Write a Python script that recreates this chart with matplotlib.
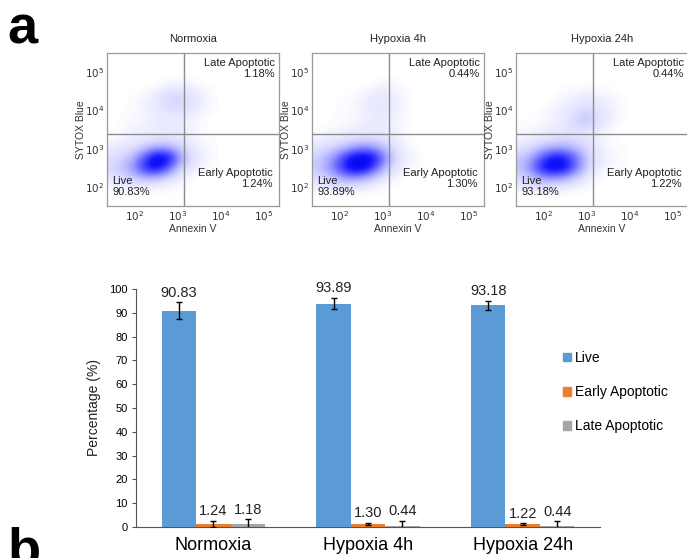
import numpy as np
import matplotlib
matplotlib.use("Agg")
import matplotlib.pyplot as plt
import matplotlib.patches as mp
from matplotlib.colors import LinearSegmentedColormap

plt.rcParams["font.family"] = ["Liberation Sans", "DejaVu Sans"]

# ---- panel a: flow cytometry quadrants ----
PANELS = ["Normoxia", "Hypoxia 4h", "Hypoxia 24h"]
LIVE_PCT = ["90.83%", "93.89%", "93.18%"]
EARLY_PCT = ["1.24%", "1.30%", "1.22%"]
LATE_PCT = ["1.18%", "0.44%", "0.44%"]

# density grid (log10 units), columns x = 1.5 .. 4.0, rows y = 5.0 .. 1.75 (step 0.25)
GRID_X = [1.5, 1.75, 2.0, 2.25, 2.5, 2.75, 3.0, 3.25, 3.5, 3.75, 4.0]
GRID_Y = [5.0, 4.75, 4.5, 4.25, 4.0, 3.75, 3.5, 3.25, 3.0, 2.75, 2.5, 2.25, 2.0, 1.75]

dens_normoxia = [
    [0, 0, 0, 0, 0, 0, 0, 0, 0, 0, 0],
    [0, 0, 0, 0, 0, 0.1, 0.1, 0.1, 0, 0, 0],
    [0, 0, 0, 0.1, 0.2, 0.4, 0.5, 0.4, 0.2, 0.1, 0],
    [0, 0, 0.1, 0.2, 0.4, 0.8, 1.0, 0.7, 0.3, 0.1, 0],
    [0, 0, 0.1, 0.2, 0.3, 0.5, 0.6, 0.4, 0.2, 0.1, 0],
    [0, 0.1, 0.1, 0.2, 0.3, 0.3, 0.3, 0.2, 0.1, 0, 0],
    [0, 0.1, 0.2, 0.2, 0.3, 0.3, 0.3, 0.2, 0.1, 0, 0],
    [0.1, 0.2, 0.3, 0.4, 0.5, 0.5, 0.4, 0.2, 0.1, 0.1, 0],
    [0.3, 0.4, 0.6, 1.2, 2.0, 2.0, 1.2, 0.5, 0.2, 0.1, 0],
    [0.6, 1.0, 2, 5, 9, 8, 3, 0.8, 0.3, 0.1, 0],
    [0.8, 1.5, 3, 6.5, 8, 4.5, 1.2, 0.4, 0.2, 0.1, 0],
    [0.5, 0.8, 1.2, 1.6, 1.3, 0.7, 0.3, 0.1, 0, 0, 0],
    [0.1, 0.2, 0.2, 0.2, 0.2, 0.1, 0.1, 0, 0, 0, 0],
    [0, 0, 0, 0, 0, 0, 0, 0, 0, 0, 0],
]
dens_hyp4 = [
    [0, 0, 0, 0, 0, 0, 0, 0, 0, 0, 0],
    [0, 0, 0, 0, 0, 0, 0.1, 0.1, 0, 0, 0],
    [0, 0, 0, 0, 0.1, 0.2, 0.3, 0.2, 0.1, 0, 0],
    [0, 0, 0, 0.1, 0.2, 0.4, 0.4, 0.3, 0.1, 0, 0],
    [0, 0, 0.1, 0.1, 0.2, 0.3, 0.4, 0.3, 0.1, 0, 0],
    [0, 0, 0.1, 0.1, 0.2, 0.3, 0.3, 0.2, 0.1, 0, 0],
    [0, 0.1, 0.1, 0.2, 0.3, 0.3, 0.3, 0.2, 0.1, 0, 0],
    [0.2, 0.3, 0.4, 0.5, 0.6, 0.6, 0.5, 0.3, 0.1, 0, 0],
    [0.5, 0.8, 1.2, 2.0, 3.0, 2.5, 1.5, 0.5, 0.2, 0.1, 0],
    [1.0, 2.0, 4, 7.5, 9, 8, 3.5, 0.9, 0.3, 0.1, 0],
    [1.2, 2.5, 5, 8.5, 9, 5.5, 1.8, 0.5, 0.2, 0.1, 0],
    [0.7, 1.2, 2.0, 2.5, 2.0, 1.0, 0.4, 0.2, 0, 0, 0],
    [0.2, 0.3, 0.4, 0.4, 0.3, 0.2, 0.1, 0, 0, 0, 0],
    [0, 0, 0, 0, 0, 0, 0, 0, 0, 0, 0],
]
dens_hyp24 = [
    [0, 0, 0, 0, 0, 0, 0, 0, 0, 0, 0],
    [0, 0, 0, 0, 0, 0, 0, 0, 0, 0, 0],
    [0, 0, 0, 0, 0.1, 0.1, 0.2, 0.1, 0.1, 0, 0],
    [0, 0, 0, 0.1, 0.2, 0.3, 0.4, 0.3, 0.2, 0.1, 0],
    [0, 0, 0.1, 0.2, 0.3, 0.5, 0.8, 0.5, 0.3, 0.1, 0],
    [0, 0.1, 0.1, 0.2, 0.4, 0.9, 1.5, 0.6, 0.3, 0.1, 0],
    [0.1, 0.1, 0.2, 0.3, 0.4, 0.6, 0.5, 0.3, 0.1, 0, 0],
    [0.2, 0.3, 0.4, 0.6, 0.7, 0.6, 0.4, 0.2, 0.1, 0, 0],
    [0.5, 0.8, 1.5, 2.0, 2.0, 1.5, 0.7, 0.3, 0.1, 0.1, 0],
    [1.2, 2.5, 5, 7.5, 6.5, 3.5, 1.0, 0.4, 0.2, 0.1, 0],
    [1.5, 3.5, 7.5, 9, 7.5, 3.5, 0.9, 0.3, 0.1, 0.1, 0],
    [0.8, 1.6, 2.5, 2.5, 1.8, 0.9, 0.3, 0.1, 0, 0, 0],
    [0.2, 0.4, 0.5, 0.4, 0.3, 0.2, 0.1, 0, 0, 0, 0],
    [0, 0, 0, 0, 0, 0, 0, 0, 0, 0, 0],
]
DENSITIES = [dens_normoxia, dens_hyp4, dens_hyp24]
GATE_X = 3.15
GATE_Y = 3.39

# ---- panel b: bar chart ----
GROUPS = ["Normoxia", "Hypoxia 4h", "Hypoxia 24h"]
SERIES = ["Live", "Early Apoptotic", "Late Apoptotic"]
live = [90.83, 93.89, 93.18]
early = [1.24, 1.30, 1.22]
late = [1.18, 0.44, 0.44]
live_err = [3.6, 2.5, 1.8]
early_err = [1.4, 0.3, 0.33]
late_err = [2.0, 2.2, 1.95]
COLORS = ["#5B9BD5", "#ED7D31", "#A5A5A5"]

W, H = 687, 558
fig = plt.figure(figsize=(W / 100, H / 100), dpi=100, facecolor="white")

cmap = LinearSegmentedColormap.from_list(
    "flow", [(0, "white"), (0.03, "#ececff"), (0.15, "#c2c2ff"), (0.4, "#7272ff"),
             (0.75, "#1818ff"), (1, "#0000e0")])

lefts = [107, 312, 516]
for i, name in enumerate(PANELS):
    ax = fig.add_axes([lefts[i] / W, (H - 206) / H, 172 / W, 153 / H])
    ax.imshow(np.array(DENSITIES[i]), extent=[1.375, 4.125, 1.625, 5.125], origin="upper",
              cmap=cmap, vmin=0, vmax=9, interpolation="bicubic", aspect="auto", zorder=1)
    ax.set_xlim(1.35, 5.35)
    ax.set_ylim(1.5, 5.5)
    ax.axvline(GATE_X, color="#8c8c8c", lw=1.0, zorder=3)
    ax.axhline(GATE_Y, color="#8c8c8c", lw=1.0, zorder=3)
    for s in ax.spines.values():
        s.set_color("#9a9a9a")
        s.set_linewidth(0.9)
    ax.set_xticks([2, 3, 4, 5])
    ax.set_xticklabels([r"$10^{2}$", r"$10^{3}$", r"$10^{4}$", r"$10^{5}$"])
    ax.set_yticks([2, 3, 4, 5])
    ax.set_yticklabels([r"$10^{2}$", r"$10^{3}$", r"$10^{4}$", r"$10^{5}$"])
    ax.tick_params(length=0, labelsize=7.5, pad=2, colors="#333333")
    ax.set_xlabel("Annexin V", fontsize=7.5, labelpad=1, color="#333333")
    ax.set_ylabel("SYTOX Blue", fontsize=7.5, labelpad=-1, color="#333333")
    ax.set_title(name, fontsize=8, pad=8, color="#222222")
    ax.text(0.975, 0.965, f"Late Apoptotic\n{LATE_PCT[i]}", transform=ax.transAxes,
            ha="right", va="top", fontsize=8, multialignment="right", color="#222222",
            linespacing=1.1, zorder=4)
    ax.text(0.965, 0.11, f"Early Apoptotic\n{EARLY_PCT[i]}", transform=ax.transAxes,
            ha="right", va="bottom", fontsize=8, multialignment="right", color="#222222",
            linespacing=1.1, zorder=4)
    ax.text(0.03, 0.06, f"Live\n{LIVE_PCT[i]}", transform=ax.transAxes,
            ha="left", va="bottom", fontsize=8, color="#222222", linespacing=1.1, zorder=4)

fig.text(0.011, (H - 44) / H, "a", fontsize=39, fontweight="bold", va="baseline", ha="left")
fig.text(0.011, (H - 565) / H, "b", fontsize=39, fontweight="bold", va="baseline", ha="left")

bx = fig.add_axes([136 / W, (H - 527) / H, 464 / W, 238 / H])
x = np.arange(len(GROUPS))
bw = 0.223
vals = [live, early, late]
errs = [live_err, early_err, late_err]
for k in range(3):
    xs = x + (k - 1) * bw
    bx.bar(xs, vals[k], width=bw, color=COLORS[k], label=SERIES[k], zorder=2)
    bx.errorbar(xs, vals[k], yerr=errs[k], fmt="none", ecolor="black", elinewidth=1,
                capsize=2.5, capthick=1, zorder=3)
    for xi, v, e in zip(xs, vals[k], errs[k]):
        bx.annotate(f"{v:.2f}", (xi, v + e), xytext=(0, 7), textcoords="offset points",
                    ha="center", va="center", fontsize=10.5, color="#222222")

bx.set_xlim(-0.5, 2.5)
bx.set_ylim(0, 100)
bx.set_yticks(range(0, 101, 10))
bx.set_xticks(x)
bx.set_xticklabels(GROUPS, fontsize=13)
bx.tick_params(axis="x", length=0, pad=7)
bx.tick_params(axis="y", length=3, width=0.8, labelsize=8, pad=3, color="#555555")
for s in ["top", "right"]:
    bx.spines[s].set_visible(False)
bx.spines["left"].set_color("#555555")
bx.spines["bottom"].set_color("#555555")
bx.set_ylabel("Percentage (%)", fontsize=10, labelpad=6, color="#222222")

fig.legend(handles=[mp.Patch(color=c) for c in COLORS], labels=SERIES,
           loc="center left", bbox_to_anchor=(563 / W, (H - 392) / H), frameon=False,
           fontsize=10, handlelength=0.6, handleheight=0.6, handletextpad=0.25,
           labelspacing=1.45, borderpad=0, borderaxespad=0)

fig.savefig("out.png", dpi=100, facecolor="white")
